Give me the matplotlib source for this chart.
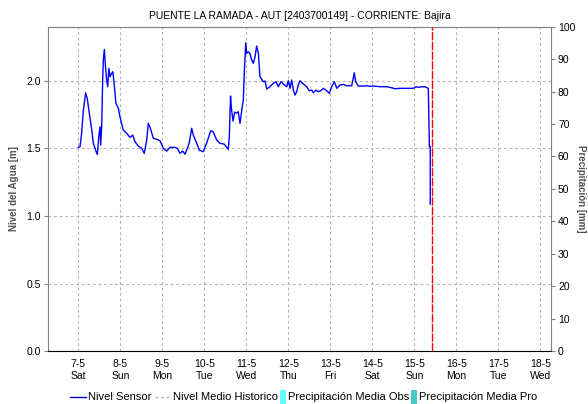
import numpy as np
import matplotlib
matplotlib.use("Agg")
import matplotlib.pyplot as plt
import matplotlib.dates as mdates
from matplotlib.lines import Line2D
from matplotlib.patches import Rectangle
from datetime import datetime, timedelta

plt.rcParams['font.family'] = ['Liberation Sans', 'DejaVu Sans']

title = "PUENTE LA RAMADA - AUT [2403700149] - CORRIENTE: Bajira"
start = datetime(2022, 5, 7, 0, 0)

# sensor readings: hours after 7-5 00:00 and level in metres
sensor_hours = [
    0.0, 1.0, 1.9, 2.9, 4.2, 5.1, 6.3, 7.7, 8.6, 10.1, 10.9, 11.7, 12.4, 12.8,
    13.4, 13.9, 14.3, 14.9, 15.4, 16.2, 16.8, 17.5, 18.1, 19.1, 19.7, 20.4,
    21.5, 22.9, 23.8, 25.7, 27.7, 29.5, 31.1, 32.4, 34.3, 36.2, 37.7, 39.1,
    40.0, 41.0, 42.9, 44.8, 46.7, 48.6, 50.5, 52.4, 55.3, 56.6, 58.1, 59.7,
    61.0, 62.3, 63.4, 64.8, 65.7, 67.7, 69.1, 71.4, 73.4, 75.7, 77.1, 79.1,
    81.0, 83.3, 85.7, 86.3, 87.0, 87.5, 88.4, 89.4, 90.4, 91.4, 92.4, 93.4,
    94.3, 94.9, 95.7, 96.2, 97.1, 98.1, 99.1, 100.0, 101.0, 101.9, 102.9,
    103.8, 105.7, 106.7, 107.7, 109.5, 111.4, 113.0, 114.3, 115.8, 117.5,
    119.1, 120.0, 121.0, 121.9, 122.9, 123.8, 124.8, 125.7, 126.7, 128.6,
    130.5, 132.0, 133.4, 134.3, 135.8, 137.1, 138.5, 140.0, 141.5, 143.4,
    144.8, 146.3, 147.7, 149.5, 151.4, 153.4, 156.2, 157.1, 157.7, 158.5,
    160.0, 162.9, 164.8, 166.7, 168.6, 172.4, 176.2, 179.1, 181.0, 183.8,
    187.7, 191.4, 193.0, 194.3, 196.2, 198.1, 200.0, 200.6, 201.1, 201.1,
]
sensor_level = [
    1.507, 1.512, 1.61, 1.78, 1.91, 1.87, 1.76, 1.635, 1.537, 1.48, 1.455,
    1.586, 1.66, 1.524, 1.672, 1.98, 2.153, 2.232, 2.129, 2.005, 1.956, 2.092,
    2.03, 2.055, 2.067, 1.993, 1.833, 1.796, 1.734, 1.635, 1.611, 1.581,
    1.598, 1.549, 1.517, 1.5, 1.463, 1.561, 1.685, 1.655, 1.574, 1.567,
    1.556, 1.5, 1.48, 1.507, 1.507, 1.5, 1.463, 1.48, 1.456, 1.5, 1.541,
    1.648, 1.598, 1.537, 1.487, 1.475, 1.541, 1.63, 1.623, 1.561, 1.537,
    1.532, 1.493, 1.586, 1.887, 1.796, 1.702, 1.768, 1.761, 1.771, 1.685,
    1.783, 1.857, 2.079, 2.281, 2.203, 2.214, 2.203, 2.153, 2.129, 2.178,
    2.257, 2.203, 2.03, 1.993, 1.998, 1.939, 1.956, 1.981, 1.993, 1.956,
    1.993, 1.973, 1.956, 2.0, 1.944, 2.005, 1.931, 1.894, 1.919, 1.968, 2.0,
    1.976, 1.956, 1.926, 1.931, 1.911, 1.931, 1.919, 1.926, 1.944, 1.931,
    1.907, 1.956, 1.993, 1.944, 1.968, 1.973, 1.963, 1.963, 2.018, 2.059,
    1.993, 1.961, 1.961, 1.963, 1.959, 1.961, 1.956, 1.956, 1.948, 1.941,
    1.944, 1.944, 1.944, 1.956, 1.951, 1.956, 1.956, 1.944, 1.513, 1.513,
    1.088,
]

now_hours = 202.3
x_range_hours = (-17.3, 270.1)
level_ticks = [0.0, 0.5, 1.0, 1.5, 2.0]
precip_ticks = list(range(0, 101, 10))

series_labels = ["Nivel Sensor", "Nivel Medio Historico",
                 "Precipitación Media Obs", "Precipitación Media Pro"]

W, H = 588, 404


def fx(px):
    return px / W


def fy(py):
    return 1 - py / H


to_dt = lambda h: start + timedelta(hours=h)
times = [to_dt(h) for h in sensor_hours]

fig = plt.figure(figsize=(W / 100, H / 100), dpi=100)
ax = fig.add_axes([fx(48), fy(351.1), fx(551 - 48), (351.1 - 26.7) / H])

grid_kw = dict(color="#b4b4b4", linestyle=(0, (2.5, 2.5)), linewidth=0.8)
ax.plot(times, sensor_level, color="#0000ff", linewidth=1.0, zorder=3)
ax.axvline(to_dt(now_hours), color="#ff0000", linewidth=1.0,
           linestyle=(0, (6, 1)), zorder=4)

ax.set_xlim(to_dt(x_range_hours[0]), to_dt(x_range_hours[1]))
ax.set_ylim(0, 2.4)
ax.set_yticks(level_ticks)
ax.set_yticklabels([f"{v:.1f}" for v in level_ticks])

ax.xaxis.set_major_locator(mdates.DayLocator())
ax.xaxis.set_major_formatter(
    matplotlib.ticker.FuncFormatter(
        lambda v, pos: (lambda d: f"{d.day}-{d.month}\n{d.strftime('%a')}")(mdates.num2date(v))))

ax.grid(True, **grid_kw)
ax.set_axisbelow(True)

for side in ("left", "right", "top"):
    ax.spines[side].set_color("#808080")
ax.spines["bottom"].set_linestyle((0, (1, 1)))
ax.spines["bottom"].set_color("#000000")

ax.tick_params(axis="x", length=0, pad=6, labelsize=7.5, colors="#000000")
ax.tick_params(axis="y", length=3, width=0.8, color="#808080", labelsize=7.5, pad=2)

ax.set_ylabel("Nivel del Agua [m]", fontsize=7, fontweight="bold", color="#505050")
ax.yaxis.set_label_coords((19 - 48) / 503, 0.5)

ax2 = ax.twinx()
ax2.set_ylim(0, 100)
ax2.set_yticks(precip_ticks)
ax2.tick_params(axis="y", length=3, width=0.8, color="#808080", labelsize=7.5, pad=2)
for side in ax2.spines:
    ax2.spines[side].set_visible(False)
ax2.set_ylabel("Precipitación [mm]", fontsize=7, fontweight="bold",
               color="#505050", rotation=-90, va="center")
ax2.yaxis.set_label_coords((581 - 48) / 503, 0.5)

fig.text(fx((48 + 551) / 2), fy(16), title, fontsize=7.5, ha="center", va="center")

# legend row along the bottom
ly = 397
fig.add_artist(Line2D([fx(70), fx(86)], [fy(ly), fy(ly)], color="#0000ff",
                      linewidth=1.0, transform=fig.transFigure))
fig.text(fx(88), fy(ly), series_labels[0], fontsize=8, va="center")
fig.add_artist(Line2D([fx(155), fx(170)], [fy(ly), fy(ly)], color="#b4b4b4",
                      linewidth=1.0, linestyle=(0, (2, 2)), transform=fig.transFigure))
fig.text(fx(173), fy(ly), series_labels[1], fontsize=8, va="center")
fig.add_artist(Rectangle((fx(280), fy(404)), fx(6), 14 / H, facecolor="#66ffff",
                         edgecolor="none", transform=fig.transFigure))
fig.text(fx(288), fy(ly), series_labels[2], fontsize=8, va="center")
fig.add_artist(Rectangle((fx(411), fy(404)), fx(6), 14 / H, facecolor="#48c9c5",
                         edgecolor="none", transform=fig.transFigure))
fig.text(fx(419), fy(ly), series_labels[3], fontsize=8, va="center")

fig.savefig("out.png", dpi=100)
